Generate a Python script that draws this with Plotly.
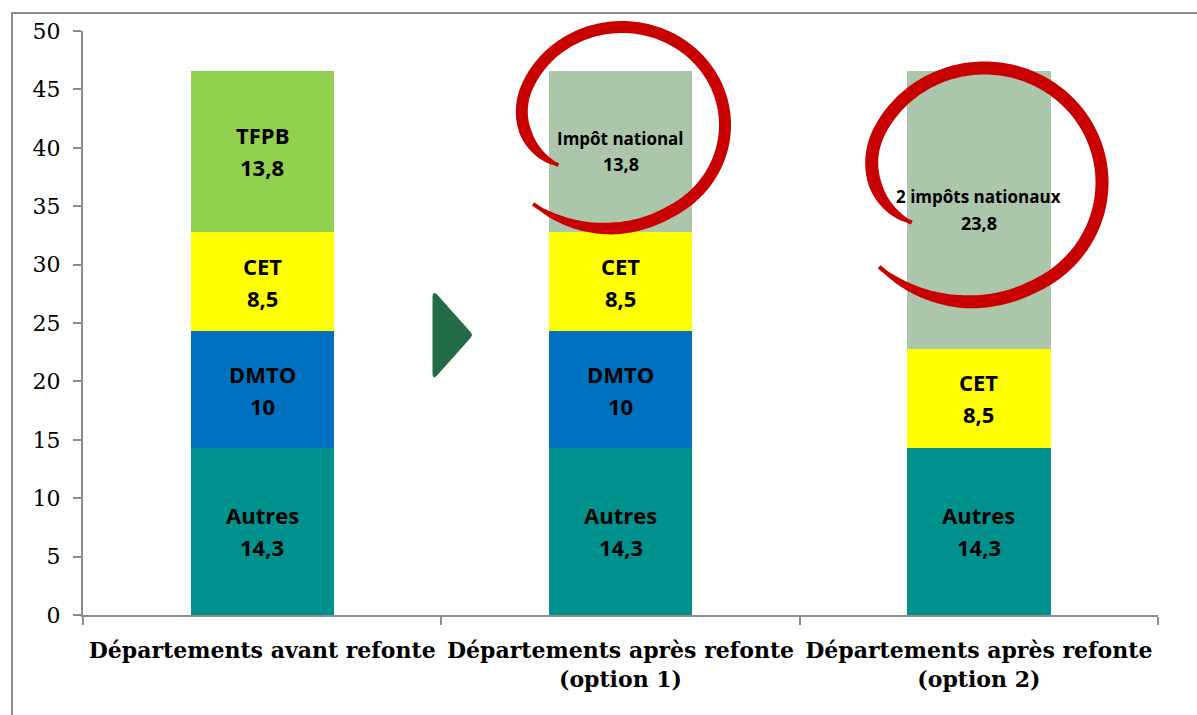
import numpy as np
import plotly.graph_objects as go

# ---------------- data ----------------
categories = ["Départements avant refonte",
              "Départements après refonte (option 1)",
              "Départements après refonte (option 2)"]
tick_labels = ["Départements avant refonte",
               "Départements après refonte<br>(option 1)",
               "Départements après refonte<br>(option 2)"]

autres = [14.3, 14.3, 14.3]
dmto = [10, 10, 0]
cet = [8.5, 8.5, 8.5]
tfpb = [13.8, 0, 0]
impots_nationaux = [0, 13.8, 23.8]

autres_labels = ["Autres", "Autres", "Autres"]
dmto_labels = ["DMTO", "DMTO", ""]
cet_labels = ["CET", "CET", "CET"]
tfpb_labels = ["TFPB", "", ""]
impots_labels = ["", "Impôt national", "2 impôts nationaux"]

y_ticks = [0, 5, 10, 15, 20, 25, 30, 35, 40, 45, 50]

# ---------------- layout constants ----------------
W, H = 1197, 715
ML, MR, MT, MB = 83, 39, 31, 100
PW = W - ML - MR
PH = H - MT - MB


def px_to_paper(px, py):
    return (px - ML) / PW, (H - MB - py) / PH


series = [
    ("Autres", autres, autres_labels, "#00908D", 22, 16),
    ("DMTO", dmto, dmto_labels, "#0070C0", 22, 16),
    ("CET", cet, cet_labels, "#FFFF00", 22, 16),
    ("TFPB", tfpb, tfpb_labels, "#92D050", 22, 16),
    ("Impôts nationaux", impots_nationaux, impots_labels, "#ABC6AB", 17, 13),
]

fig = go.Figure()
for name, vals, labs, color, fs, off in series:
    fig.add_trace(go.Bar(x=categories, y=vals, name=name, marker_color=color,
                         marker_line_width=0, width=0.4, hoverinfo="skip"))

# labels inside the segments
annotations = []
base = [0.0] * len(categories)
for name, vals, labs, color, fs, off in series:
    for i, v in enumerate(vals):
        if v and v > 0:
            mid = base[i] + v / 2
            vtxt = (f"{v:g}").replace(".", ",")
            annotations.append(dict(x=categories[i], y=mid, text=f"<b>{labs[i]}</b>",
                                    showarrow=False, yshift=off,
                                    font=dict(family="Open Sans", size=fs, color="black")))
            annotations.append(dict(x=categories[i], y=mid, text=f"<b>{vtxt}</b>",
                                    showarrow=False, yshift=-off,
                                    font=dict(family="Open Sans", size=fs + (1 if fs < 20 else 0),
                                              color="black")))
            base[i] += v

shapes = []

# outer border of the chart area
bx0, by0 = px_to_paper(12, 718)
bx1, by1 = px_to_paper(1201, 13)
shapes.append(dict(type="rect", xref="paper", yref="paper", x0=bx0, y0=by0, x1=bx1, y1=by1,
                   line=dict(color="#8C8C8C", width=2), fillcolor="rgba(0,0,0,0)", layer="below"))


def pt(px, py):
    x, y = px_to_paper(px, py)
    return f"{x:.5f},{y:.5f}"


# green arrow (triangle) between first and second bar
tri = ("M " + pt(433, 297) + " Q " + pt(433, 291) + " " + pt(437, 295) +
       " L " + pt(470, 332) + " Q " + pt(473, 335) + " " + pt(470, 338) +
       " L " + pt(437, 375) + " Q " + pt(433, 380) + " " + pt(433, 373) + " Z")
shapes.append(dict(type="path", xref="paper", yref="paper", path=tri,
                   fillcolor="#236B47", line=dict(color="#236B47", width=1)))


# hand-drawn red loops
def loop_path(cx, cy, rx, ry, a0, sweep, r0, r1, wmax, n=260):
    s = np.linspace(0, 1, n)
    th = np.radians(a0 + sweep * s)
    r = 1 + (r0 - 1) * np.clip(1 - s / 0.16, 0, 1) ** 2 + (r1 - 1) * np.clip((s - 0.78) / 0.22, 0, 1) ** 1.4
    x = cx + r * rx * np.cos(th)
    y = cy + r * ry * np.sin(th)
    dx = np.gradient(x)
    dy = np.gradient(y)
    L = np.hypot(dx, dy)
    nx, ny = -dy / L, dx / L
    w = wmax * np.clip(s / 0.08, 0.1, 1) ** 0.5 * np.clip((1 - s) / 0.12, 0.1, 1) ** 0.5
    lx, ly = x + nx * w / 2, y + ny * w / 2
    rxs, rys = x - nx * w / 2, y - ny * w / 2
    pts = list(zip(lx, ly)) + list(zip(rxs[::-1], rys[::-1]))
    return "M " + " L ".join(pt(a, b) for a, b in pts) + " Z"


shapes.append(dict(type="path", xref="paper", yref="paper",
                   path=loop_path(622, 125, 103, 98, 146.5, 350.5, 0.74, 1.18, 12),
                   fillcolor="#C80000", line=dict(width=0)))
shapes.append(dict(type="path", xref="paper", yref="paper",
                   path=loop_path(984.5, 182.5, 117.5, 114.5, 150.5, 350.1, 0.71, 1.16, 13),
                   fillcolor="#C80000", line=dict(width=0)))

fig.update_layout(
    barmode="stack",
    width=W, height=H,
    margin=dict(l=ML, r=MR, t=MT, b=MB, autoexpand=False),
    paper_bgcolor="white", plot_bgcolor="white",
    showlegend=False,
    annotations=annotations,
    shapes=shapes,
    xaxis=dict(tickmode="array", tickvals=categories, ticktext=tick_labels,
               tickson="boundaries", ticks="outside", ticklen=8, tickwidth=2,
               tickcolor="#8C8C8C", showline=True, linecolor="#8C8C8C", linewidth=2,
               showgrid=False, zeroline=False, ticklabelstandoff=15,
               tickfont=dict(family="DejaVu Serif", size=22, color="black", weight="bold")),
    yaxis=dict(range=[0, 50], tickmode="array", tickvals=y_ticks,
               ticks="outside", ticklen=8, tickwidth=2, tickcolor="#8C8C8C",
               showline=True, linecolor="#8C8C8C", linewidth=2, showgrid=False,
               zeroline=False, ticklabelstandoff=8,
               tickfont=dict(family="DejaVu Serif", size=22, color="black")),
)

fig.write_html("out.html", config={"displayModeBar": False},
               post_script="document.body.style.margin='0px';")
